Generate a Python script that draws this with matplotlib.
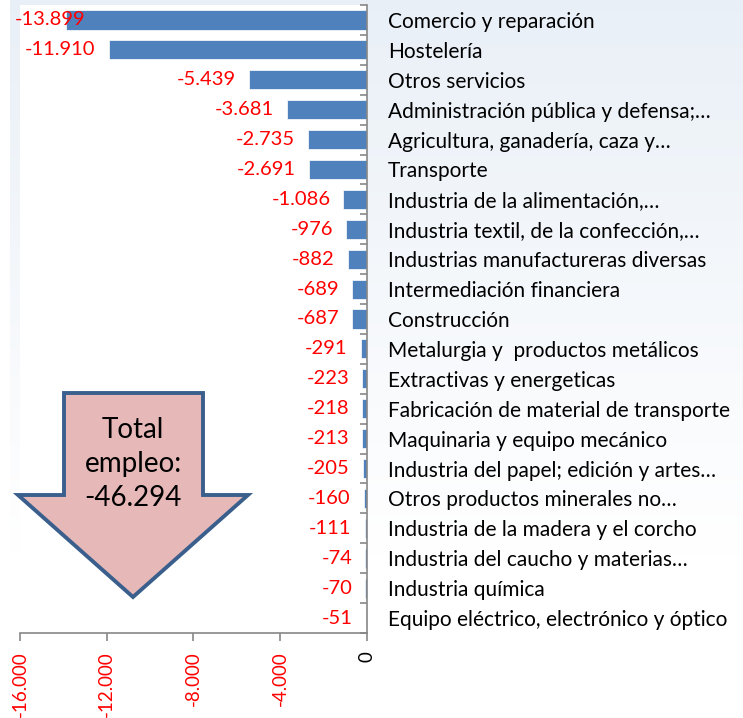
import numpy as np
import matplotlib
matplotlib.use("Agg")
import matplotlib.pyplot as plt
from matplotlib.patches import Polygon
from matplotlib.ticker import FixedLocator

BAR, RED, GRAYLINE = "#4F81BD", "#FF0000", "#878787"
ARROW_FILL, ARROW_EDGE = "#E6B9B8", "#3A5F8D"

sectors = [
    "Comercio y reparación",
    "Hostelería",
    "Otros servicios",
    "Administración pública y defensa;…",
    "Agricultura, ganadería, caza y…",
    "Transporte",
    "Industria de la alimentación,…",
    "Industria textil, de la confección,…",
    "Industrias manufactureras diversas",
    "Intermediación financiera",
    "Construcción",
    "Metalurgia y  productos metálicos",
    "Extractivas y energeticas",
    "Fabricación de material de transporte",
    "Maquinaria y equipo mecánico",
    "Industria del papel; edición y artes…",
    "Otros productos minerales no…",
    "Industria de la madera y el corcho",
    "Industria del caucho y materias…",
    "Industria química",
    "Equipo eléctrico, electrónico y óptico",
]
empleo = [-13899, -11910, -5439, -3681, -2735, -2691, -1086, -976, -882, -689,
          -687, -291, -223, -218, -213, -205, -160, -111, -74, -70, -51]
xticks = [-16000, -12000, -8000, -4000, 0]
total_text = "Total\nempleo:\n-46.294"

plt.rcParams["font.family"] = ["Lato", "DejaVu Sans"]

W, H = 743, 718


def es(v):
    # spanish thousands separator
    return f"{v:,}".replace(",", ".")


def px(x, y):
    return x / W, 1 - y / H


fig = plt.figure(figsize=(W / 100, H / 100), dpi=100)

# faint bluish chart-area background
bg = fig.add_axes([10 / W, 0, 1 - 10 / W, 1], zorder=-5)
grad = np.linspace(0, 1, 256).reshape(-1, 1)
top_c = np.array([0.915, 0.94, 0.968])
cols = top_c + (1 - top_c) * np.clip(grad * 1.3, 0, 1)[..., None]
bg.imshow(cols.reshape(256, 1, 3), aspect="auto", extent=[0, 1, 0, 1])
bg.axis("off")

x0, x1, ytop, ybot = 20, 367, 5, 633
ax = fig.add_axes([x0 / W, 1 - ybot / H, (x1 - x0) / W, (ybot - ytop) / H])
ax.set_facecolor("white")

y = np.arange(len(sectors))
ax.barh(y, empleo, height=0.64, color=BAR, edgecolor="white", linewidth=0.5, zorder=2)
ax.set_xlim(-16000, 0)
ax.set_ylim(len(sectors) - 0.5, -0.5)

for s in ("top", "left"):
    ax.spines[s].set_visible(False)
for s in ("right", "bottom"):
    ax.spines[s].set_color(GRAYLINE)
    ax.spines[s].set_linewidth(1.2)

ax.yaxis.tick_right()
ax.set_yticks(y)
ax.set_yticklabels(sectors, fontsize=15)
ax.yaxis.set_minor_locator(FixedLocator(np.arange(len(sectors) + 1) - 0.5))
ax.tick_params(axis="y", which="major", length=0, pad=15)
ax.tick_params(axis="y", which="minor", direction="in", length=5, color=GRAYLINE, width=1.2)

ax.set_xticks(xticks)
ax.set_xticklabels([es(v) for v in xticks], rotation=90, fontsize=13.5)
ax.tick_params(axis="x", direction="out", length=6, color=GRAYLINE, width=1.2, pad=7)
for lab, v in zip(ax.get_xticklabels(), xticks):
    lab.set_color("black" if v == 0 else RED)

for yi, v in zip(y, empleo):
    if v < -13000:
        # no room left of the bar: label sits at the plot edge
        ax.annotate(es(v), (-16000, yi), xytext=(-5, 0), textcoords="offset pixels",
                    ha="left", va="center", color=RED, fontsize=14.5, annotation_clip=False)
    else:
        ax.annotate(es(v), (v, yi), xytext=(-13, 0), textcoords="offset pixels",
                    ha="right", va="center", color=RED, fontsize=14.5)

# big arrow with the total
arrow = [(64, 393), (203, 393), (203, 495), (248, 495), (133, 597),
         (18, 495), (64, 495)]
fig.patches.append(Polygon([px(a, b) for a, b in arrow], closed=True,
                           transform=fig.transFigure, facecolor=ARROW_FILL,
                           edgecolor=ARROW_EDGE, linewidth=2.8, zorder=5))
fig.text(*px(133, 464), total_text, ha="center", va="center", fontsize=20,
         linespacing=1.4, color="black", zorder=6)

fig.savefig("out.png", dpi=100)
